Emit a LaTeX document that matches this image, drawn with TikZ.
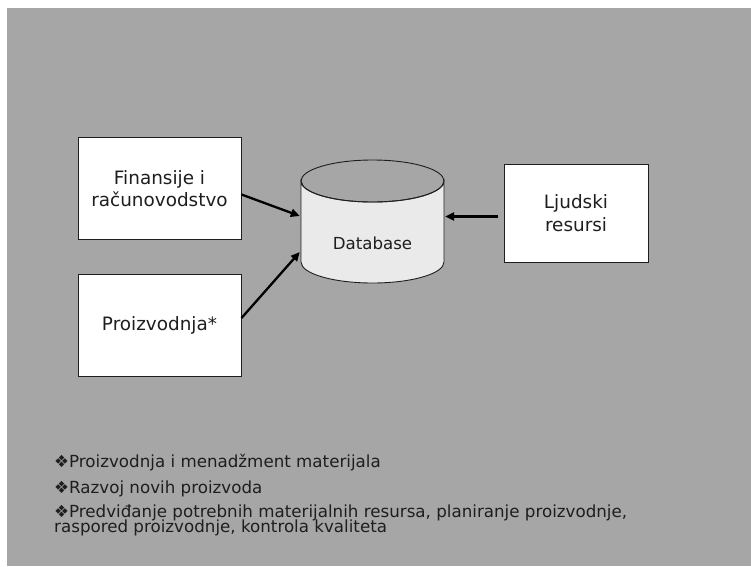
\documentclass[tikz,border=0pt]{standalone}
\usepackage{fontspec}
\setmainfont{DejaVu Sans}
\usetikzlibrary{arrows.meta,calc}
\definecolor{slidegray}{RGB}{166,166,166}
\definecolor{dbfill}{RGB}{234,234,234}
\definecolor{inkgray}{RGB}{30,30,30}
\tikzset{
  unit/.style={draw=inkgray, line width=1pt, fill=white, align=center,
    font=\fontsize{18.4}{22.5}\selectfont, text=inkgray, inner sep=0pt},
  flow/.style={line width=2.3pt, -{Triangle[length=9pt,width=8pt]}},
  bullet/.style={anchor=base west, inner sep=0pt, text=inkgray,
    font=\fontsize{16.7}{15}\selectfont}
}
\begin{document}
\begin{tikzpicture}[x=1pt,y=-1pt]
  \useasboundingbox (0,0) rectangle (751,566);
  \fill[white] (0,0) rectangle (751,566);
  \fill[slidegray] (7,8) rectangle (751,566);

  % department boxes
  \node[unit, minimum width=163pt, minimum height=102pt] (fin) at (159.5,188.5)
    {Finansije i\\računovodstvo};
  \node[unit, minimum width=163pt, minimum height=102pt] (proz) at (159.5,325)
    {Proizvodnja*};
  \node[unit, minimum width=144pt, minimum height=98pt] (hr) at (576,213)
    {Ljudski\\resursi};

  % central database cylinder
  \path[fill=dbfill, draw=inkgray, line width=0.9pt]
    (301,181) -- (301,262) arc[start angle=180, end angle=0, x radius=71.5, y radius=21]
    -- (444,181) arc[start angle=0, end angle=180, x radius=71.5, y radius=21] -- cycle;
  \draw[inkgray, line width=0.9pt] (372.5,181) ellipse[x radius=71.5, y radius=21];
  \node[inner sep=0pt, minimum width=143pt, minimum height=123pt] (db) at (372.5,221.5) {};
  \node[anchor=base, inner sep=0pt, text=inkgray, font=\fontsize{16.6}{18}\selectfont]
    (dblabel) at (372.5,249) {Database};

  % data flows into the database
  \draw[flow] ($(fin.east)+(0,6)$) -- ($(db.west)+(-1,-5.5)$);
  \draw[flow] ($(proz.east)+(0,-7)$) -- ($(db.west)+(-1,30.5)$);
  \draw[flow] ($(hr.west)+(-6,3.5)$) -- ($(db.east)+(1,-5)$);

  % notes
  \node[bullet] (n1) at (54,467) {❖Proizvodnja i menadžment materijala};
  \node[bullet] (n2) at (54,493) {❖Razvoj novih proizvoda};
  \node[bullet] (n3) at (54,517) {❖Predviđanje potrebnih materijalnih resursa, planiranje proizvodnje,};
  \node[bullet] (n4) at (54,532.5) {raspored proizvodnje, kontrola kvaliteta};
\end{tikzpicture}
\end{document}
